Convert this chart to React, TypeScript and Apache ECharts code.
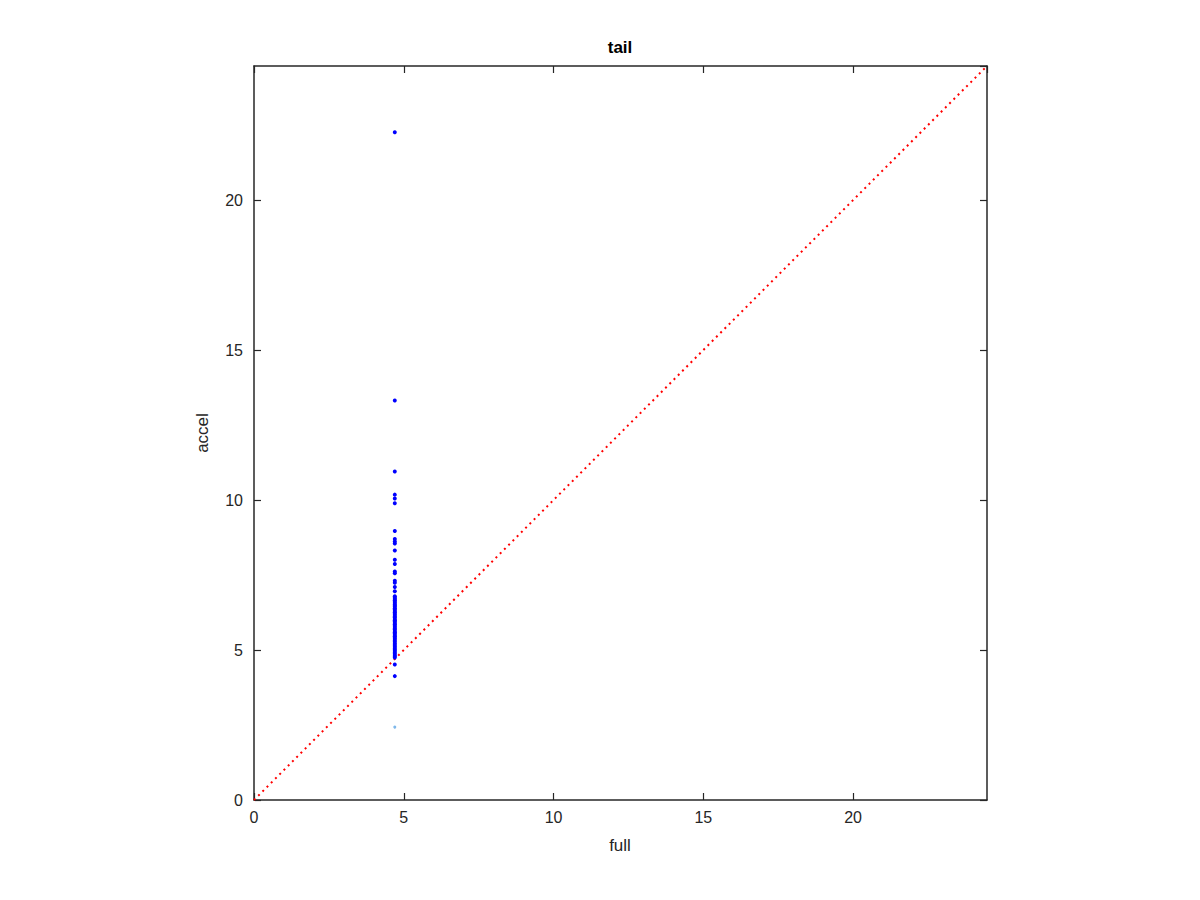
import React, { useEffect, useRef } from "react";
import * as echarts from "echarts";

const titleText = "tail";
const xName = "full";
const yName = "accel";
const axisMax = 24.47;
const tickInterval = 5;

// accel values of the dark-blue points, all at full = 4.70
const fullValue = 4.7;
const accelValues = [
  22.26, 13.32, 10.95, 10.18, 10.05, 9.89, 8.97, 8.70, 8.62, 8.55, 8.32, 8.01, 7.87,
  7.62, 7.56, 7.31, 7.24, 7.10, 6.96,
  6.79, 6.74, 6.70, 6.66, 6.61, 6.57, 6.52, 6.48, 6.44, 6.39, 6.35, 6.30, 6.26,
  6.21, 6.17, 6.12, 6.08, 6.03, 5.99, 5.95, 5.90, 5.86, 5.81, 5.77, 5.72, 5.68,
  5.63, 5.59, 5.55, 5.50, 5.46, 5.41, 5.37, 5.32, 5.28, 5.23, 5.19, 5.14, 5.10,
  5.05, 5.01, 4.97, 4.92, 4.88, 4.83, 4.79, 4.75, 4.52, 4.13,
];
// the single light-blue point
const lightFull = [4.7];
const lightAccel = [2.43];
// reference diagonal
const diagFull = [0, axisMax];
const diagAccel = [0, axisMax];

const FONT = "Liberation Sans, Arial, Helvetica, sans-serif";
const axisColor = "#262626";

export default function App() {
  const ref = useRef<HTMLDivElement>(null);
  useEffect(() => {
    if (!ref.current) return;
    const chart = echarts.init(ref.current, undefined, { renderer: "svg" });
    const baseAxis = (show: boolean) => ({
      type: "value" as const,
      min: 0,
      max: axisMax,
      interval: tickInterval,
      axisLine: { show: true, onZero: false, lineStyle: { color: axisColor, width: 1.5 } },
      axisTick: { show: true, inside: true, length: 7, lineStyle: { color: axisColor, width: 1.2 } },
      splitLine: { show: false },
      axisLabel: {
        show,
        color: "#262626",
        fontSize: 16,
        fontFamily: FONT,
        showMaxLabel: false,
        formatter: (v: number) => (v % tickInterval === 0 ? String(v) : ""),
      },
    });
    chart.setOption({
      animation: false,
      backgroundColor: "#ffffff",
      grid: { left: 254, top: 66, width: 733, height: 734 },
      xAxis: [
        { ...baseAxis(true), position: "bottom", axisLabel: { ...baseAxis(true).axisLabel, margin: 9 } },
        { ...baseAxis(false), position: "top" },
      ],
      yAxis: [
        { ...baseAxis(true), position: "left", axisLabel: { ...baseAxis(true).axisLabel, margin: 11 } },
        { ...baseAxis(false), position: "right" },
      ],
      graphic: [
        { type: "text", x: 620, y: 47, style: { text: titleText, font: `bold 17px ${FONT}`, fill: "#000", textAlign: "center", textVerticalAlign: "middle" } },
        { type: "text", x: 620, y: 845, style: { text: xName, font: `17px ${FONT}`, fill: "#262626", textAlign: "center", textVerticalAlign: "middle" } },
        { type: "text", x: 202, y: 433, rotation: Math.PI / 2, style: { text: yName, font: `17px ${FONT}`, fill: "#262626", textAlign: "center", textVerticalAlign: "middle" } },
      ],
      series: [
        {
          type: "line",
          data: diagFull.map((x, i) => [x, diagAccel[i]]),
          symbol: "none",
          lineStyle: { color: "#ff0000", width: 2, type: [2, 4] },
          z: 1,
        },
        {
          type: "scatter",
          data: accelValues.map((y) => [fullValue, y]),
          symbolSize: 4,
          itemStyle: { color: "#0000ff", opacity: 1 },
          z: 3,
        },
        {
          type: "scatter",
          data: lightFull.map((x, i) => [x, lightAccel[i]]),
          symbolSize: 3,
          itemStyle: { color: "#7fb8ea", opacity: 1 },
          z: 3,
        },
      ],
    });
    return () => chart.dispose();
  }, []);
  return <div ref={ref} style={{ position: "fixed", left: 0, top: 0, width: 1200, height: 900 }} />;
}
